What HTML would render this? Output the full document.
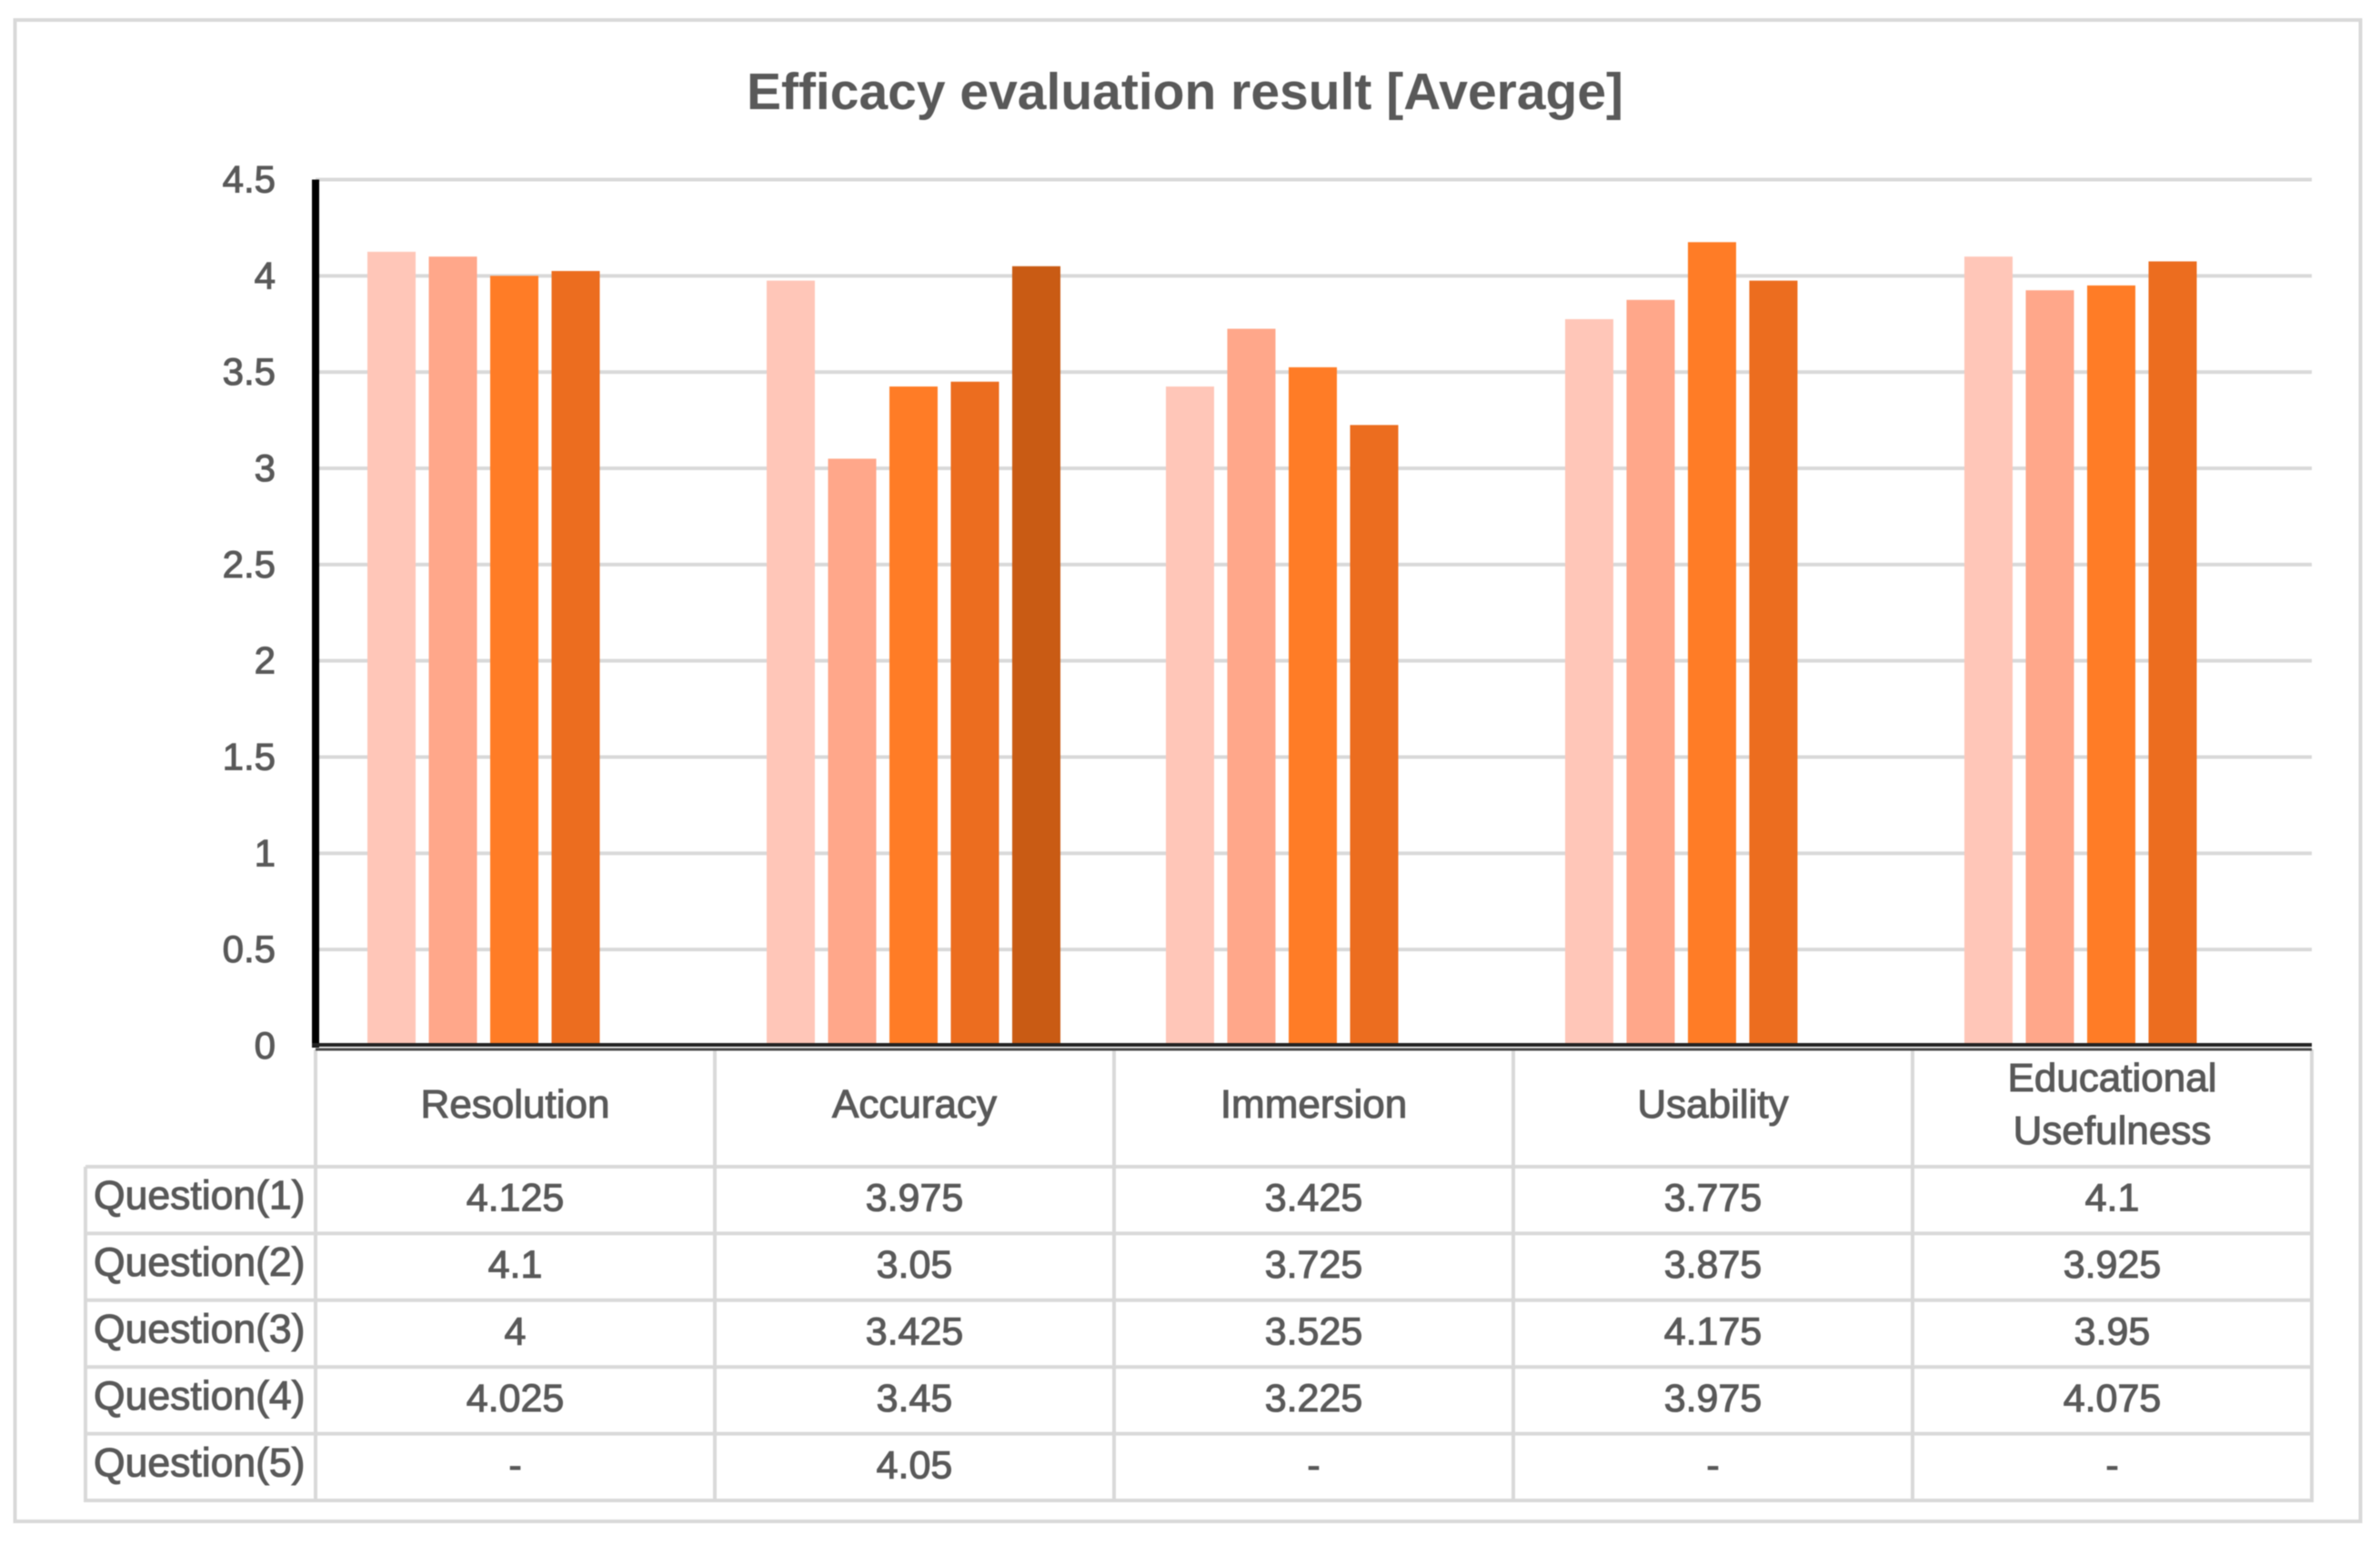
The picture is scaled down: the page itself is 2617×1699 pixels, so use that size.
<!DOCTYPE html>
<html lang="en">
<head>
<meta charset="utf-8">
<title>Efficacy evaluation result</title>
<style>
html,body{margin:0;padding:0;background:#fff;width:2617px;height:1699px;overflow:hidden}
svg{display:block;position:absolute;left:0;top:0;filter:blur(.6px)}
text{font-family:"Liberation Sans",sans-serif;fill:#595959;stroke:#595959;stroke-width:1.1px}
</style>
</head>
<body>
<svg id="chart" width="2617" height="1699" viewBox="0 0 2617 1699" xmlns="http://www.w3.org/2000/svg">
<rect x="16.5" y="22" width="2579" height="1651" fill="#fff" stroke="#d9d9d9" stroke-width="4"></rect>
<text x="1303" y="120" text-anchor="middle" font-size="57" font-weight="bold" style="stroke-width:0">Efficacy evaluation result [Average]</text>
<g id="grid"></g>
<g id="bars"></g>
<g id="table"></g>
<g id="axes"></g>
</svg>
<script>
const categories = ["Resolution", "Accuracy", "Immersion", "Usability", "Educational Usefulness"];
const seriesNames = ["Question(1)", "Question(2)", "Question(3)", "Question(4)", "Question(5)"];
const question1 = [4.125, 3.975, 3.425, 3.775, 4.1];
const question2 = [4.1, 3.05, 3.725, 3.875, 3.925];
const question3 = [4, 3.425, 3.525, 4.175, 3.95];
const question4 = [4.025, 3.45, 3.225, 3.975, 4.075];
const question5 = [null, 4.05, null, null, null];
const yTicks = [0, 0.5, 1, 1.5, 2, 2.5, 3, 3.5, 4, 4.5];
const seriesColors = ["#ffc6b8", "#ffa78a", "#ff7c26", "#ec6d1f", "#c95b14"];

const allSeries = [question1, question2, question3, question4, question5];
const svg = document.getElementById('chart');
const NS = 'http://www.w3.org/2000/svg';
const gridG = document.getElementById('grid');
const barsG = document.getElementById('bars');
const tableG = document.getElementById('table');
const axesG = document.getElementById('axes');

const plotLeft = 347, plotRight = 2542, plotBottom = 1150, plotTop = 197.5;
const yMax = yTicks[yTicks.length - 1];
const colW = (plotRight - plotLeft) / categories.length;
const tableLeft = 94, headerBottom = 1283, rowH = 73.4;

function yScale(v) { return plotBottom - (v / yMax) * (plotBottom - plotTop); }
function colX(i) { return plotLeft + i * colW; }
function barX(i, s) { return colX(i) + 57 + s * 67.5; }

function make(parent, tag, attrs, txt) {
  const el = document.createElementNS(NS, tag);
  Object.keys(attrs).forEach(function (k) { el.setAttribute(k, attrs[k]); });
  if (txt !== undefined) el.textContent = txt;
  parent.appendChild(el);
  return el;
}

yTicks.forEach(function (t) {
  if (t > 0) {
    const gl = make(gridG, 'line', { x1: plotLeft, x2: plotRight, y1: yScale(t), y2: yScale(t), stroke: '#d9d9d9', 'stroke-width': 4 });
    
    
  }
  const lab = make(axesG, 'text', { x: 303, y: yScale(t) + 14, 'text-anchor': 'end', 'font-size': 42 }, String(t));
  
  
});

allSeries.forEach(function (vals, s) {
  vals.forEach(function (v, i) {
    if (v === null) return;
    const bar = make(barsG, 'rect', { x: barX(i, s), y: yScale(v), width: 53, height: plotBottom - yScale(v), fill: seriesColors[s] });
    
    
  });
});

const lineStyle = { stroke: '#d9d9d9', 'stroke-width': 4 };
const tableBottom = headerBottom + rowH * seriesNames.length;
for (let r = 0; r <= seriesNames.length; r++) {
  const y = headerBottom + r * rowH;
  const hl = make(tableG, 'line', Object.assign({ x1: tableLeft, x2: plotRight, y1: y, y2: y }, lineStyle));
  
  
}
for (let c = 0; c <= categories.length; c++) {
  const vl = make(tableG, 'line', Object.assign({ x1: colX(c), x2: colX(c), y1: plotBottom + 4, y2: tableBottom + 2 }, lineStyle));
  
  
}
const leftEdge = make(tableG, 'line', Object.assign({ x1: tableLeft, x2: tableLeft, y1: headerBottom, y2: tableBottom + 2 }, lineStyle));



categories.forEach(function (name, i) {
  const cx = colX(i) + colW / 2;
  const parts = name === 'Educational Usefulness' ? name.split(' ') : [name];
  parts.forEach(function (p, k) {
    const base = parts.length === 1 ? 1229 : 1200 + k * 58;
    const h = make(tableG, 'text', { x: cx, y: base, 'text-anchor': 'middle', 'font-size': 44 }, p);
    
    
  });
});

seriesNames.forEach(function (name, s) {
  const cy = headerBottom + (s + 0.5) * rowH;
  const lab = make(tableG, 'text', { x: 103, y: cy + 10, 'font-size': 44.5 }, name);
  
  
  allSeries[s].forEach(function (v, i) {
    const cell = make(tableG, 'text', { x: colX(i) + colW / 2, y: cy + 12, 'text-anchor': 'middle', 'font-size': 43 }, v === null ? '-' : String(v));
    
    
  });
});

const yAxis = make(axesG, 'line', { x1: plotLeft, x2: plotLeft, y1: plotTop, y2: plotBottom + 2, stroke: '#000', 'stroke-width': 8 });


const xAxis = make(axesG, 'line', { x1: plotLeft - 4, x2: plotRight, y1: plotBottom - 1, y2: plotBottom - 1, stroke: '#222', 'stroke-width': 4 });


const xAxis2 = make(axesG, 'line', { x1: plotLeft, x2: plotRight, y1: plotBottom + 4, y2: plotBottom + 4, stroke: '#4a4a4a', 'stroke-width': 3 });


</script>
</body>
</html>
